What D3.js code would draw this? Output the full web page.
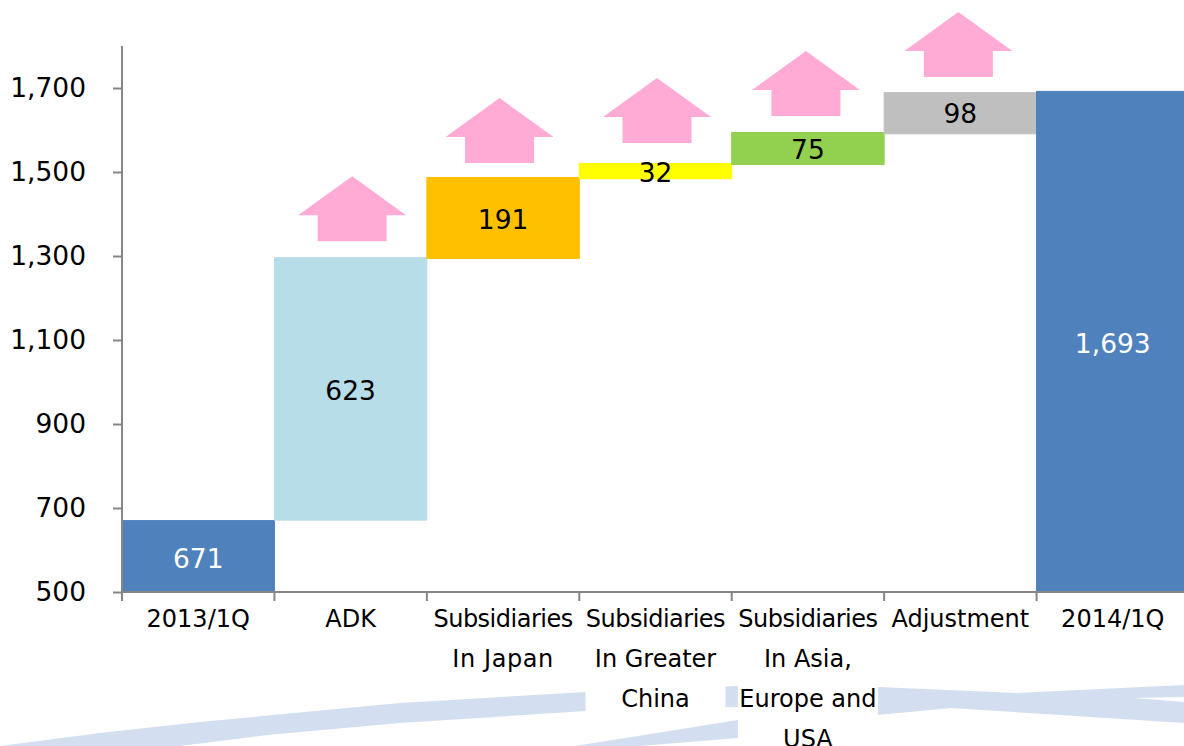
<!DOCTYPE html>
<html>
<head>
<meta charset="utf-8">
<script src="https://cdn.jsdelivr.net/npm/d3@7"></script>
<style>
  html, body { margin: 0; padding: 0; background: #fff; overflow: hidden; }
  text { font-family: "DejaVu Sans", sans-serif; }
  .tick text { fill: #000; }
</style>
</head>
<body>
<div id="chart"></div>
<script>
let height = 746,
    width = 1184,
    margin = ({ top: 46, right: -5, bottom: 154, left: 122 });

// picture data, bar tops/bottoms read against the y axis
const categories = ["2013/1Q", "ADK", "Subsidiaries In Japan", "Subsidiaries In Greater China",
  "Subsidiaries In Asia, Europe and USA", "Adjustment", "2014/1Q"];
const labelLines = [["2013/1Q"], ["ADK"], ["Subsidiaries", "In Japan"], ["Subsidiaries", "In Greater", "China"],
  ["Subsidiaries", "In Asia,", "Europe and", "USA"], ["Adjustment"], ["2014/1Q"]];
const barLabels = ["671", "623", "191", "32", "75", "98", "1,693"];
const barBottoms = [500, 671, 1294, 1484, 1518, 1591, 500];
const barTops = [670, 1296, 1487, 1520, 1594, 1689, 1692];
const barColors = ["#4f81bd", "#b7dde8", "#ffc000", "#ffff00", "#92d050", "#bfbfbf", "#4f81bd"];
const labelColors = ["#fff", "#000", "#000", "#000", "#000", "#000", "#fff"];
const labelValues = [579, 979, 1386, 1498, 1552, 1638, 1090];

// arrows sit over the middle five bars; tip is in axis units
const arrowCategories = categories.slice(1, 6);
const arrowTips = [1490, 1676, 1724, 1788, 1881];

const yTicks = [500, 700, 900, 1100, 1300, 1500, 1700];

const svg = d3.select("#chart")
    .append("svg")
    .attr("width", width)
    .attr("height", height)
    .attr("viewBox", [0, 0, width, height]);

let x = d3.scaleBand()
    .domain(categories)
    .range([margin.left, width - margin.right])
    .padding(0);

let y = d3.scaleLinear()
    .domain([500, 1800])
    .range([height - margin.bottom, margin.top]);

// swoosh from the slide background, behind the bottom labels
svg.append("path")
    .attr("d", "M0,746 L100,733 L200,722 L400,703 L585,692 L738,686 L878,687 L1017,693 L1184,685 L1184,723 L951,708 L878,715 L738,707 L586,711 L400,723 L267,735 L180,746 Z")
    .attr("fill", "#d3dff0");
svg.append("path")
    .attr("d", "M575,746 L738,720 L738,738 L640,746 Z")
    .attr("fill", "#d3dff0");
svg.append("path")
    .attr("d", "M1134,698 L1184,697 L1184,702 Z")
    .attr("fill", "#fff");

svg.append("g")
    .selectAll("rect")
    .data(categories)
    .join("rect")
    .attr("x", d => x(d))
    .attr("width", x.bandwidth())
    .attr("y", (d, i) => y(barTops[i]))
    .attr("height", (d, i) => y(barBottoms[i]) - y(barTops[i]))
    .attr("fill", (d, i) => barColors[i])
    .attr("stroke", (d, i) => barColors[i])
    .attr("stroke-width", 1);

// y axis
const yAxis = svg.append("g")
    .attr("transform", `translate(${margin.left},0)`)
    .call(d3.axisLeft(y).tickValues(yTicks).tickFormat(d3.format(",")).tickSize(9).tickPadding(27));
yAxis.selectAll("path, line").attr("stroke", "#868686").attr("stroke-width", 2);
yAxis.select(".domain").attr("d", `M0,${y(1800)}V${y(500)}`);
yAxis.selectAll("text").attr("font-size", 26.5);

// x axis, ticks on the band edges
const xEdges = categories.map(d => x(d));
const xAxis = svg.append("g")
    .attr("transform", `translate(0,${y(500)})`);
xAxis.append("line")
    .attr("x1", margin.left).attr("x2", width)
    .attr("stroke", "#868686").attr("stroke-width", 2);
xAxis.selectAll(".edge")
    .data(xEdges)
    .join("line")
    .attr("class", "edge")
    .attr("x1", d => d).attr("x2", d => d)
    .attr("y1", 0).attr("y2", 9)
    .attr("stroke", "#868686").attr("stroke-width", 2);

// multi line category labels
const labelG = svg.append("g");
categories.forEach((c, i) => {
  const lines = labelLines[i];
  if (lines.length > 2) {
    labelG.append("rect")
      .attr("x", x(c) + x.bandwidth() / 2 - 70)
      .attr("y", 604)
      .attr("width", 140)
      .attr("height", lines.length * 40 - 13)
      .attr("fill", "#fff");
  }
  lines.forEach((t, j) => {
    labelG.append("text")
      .attr("x", x(c) + x.bandwidth() / 2)
      .attr("y", 627 + j * 40)
      .attr("text-anchor", "middle")
      .attr("font-size", 24)
      .attr("letter-spacing", t === "Subsidiaries" ? -0.5 : (t === "In Japan" ? 0.6 : 0))
      .text(t);
  });
});

// value labels
svg.append("g")
    .selectAll("text")
    .data(categories)
    .join("text")
    .attr("x", d => x(d) + x.bandwidth() / 2)
    .attr("y", (d, i) => y(labelValues[i]))
    .attr("dy", "0.35em")
    .attr("text-anchor", "middle")
    .attr("font-size", 26.5)
    .attr("fill", (d, i) => labelColors[i])
    .text((d, i) => barLabels[i]);

// pink up arrows, hand placed in the original so not quite centred on the bars
const arrowNudge = [1.5, -3.5, 1.5, -2, -2];
const arrow = d3.line();
svg.append("g")
    .selectAll("path")
    .data(arrowCategories)
    .join("path")
    .attr("fill", "#ffabd5")
    .attr("d", (d, i) => {
      const cx = x(d) + x.bandwidth() / 2 + arrowNudge[i], tip = y(arrowTips[i]);
      return arrow([[cx, tip], [cx + 54, tip + 39], [cx + 34.5, tip + 39], [cx + 34.5, tip + 65],
        [cx - 34.5, tip + 65], [cx - 34.5, tip + 39], [cx - 54, tip + 39]]) + "Z";
    });
</script>
</body>
</html>
